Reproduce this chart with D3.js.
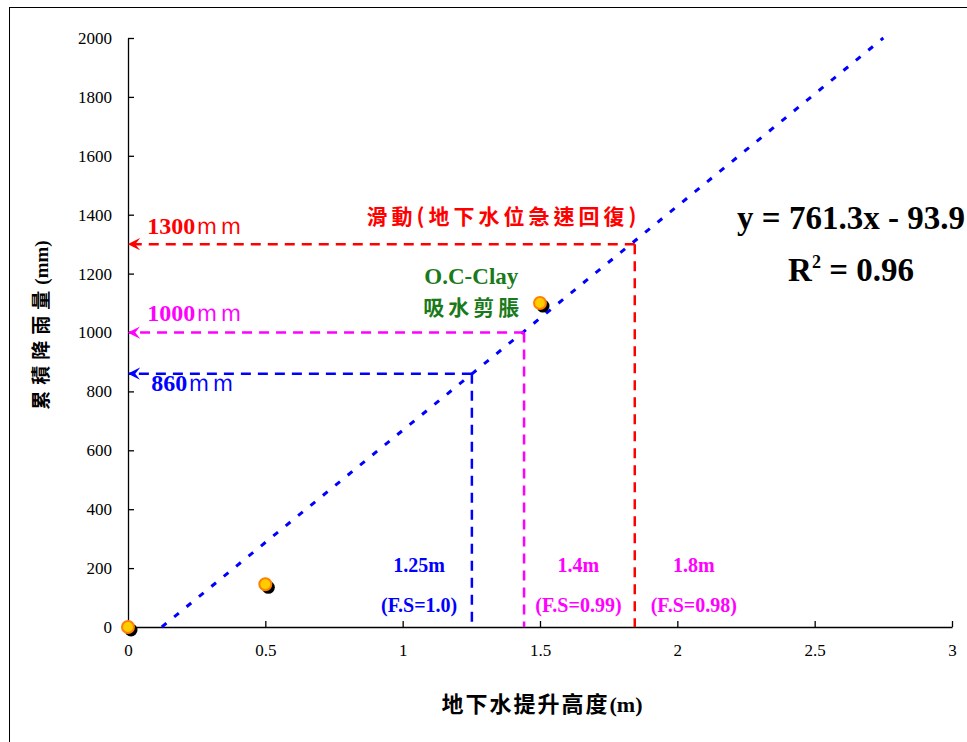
<!DOCTYPE html>
<html>
<head>
<meta charset="utf-8">
<script src="https://cdn.jsdelivr.net/npm/d3@7"></script>
<style>
body{margin:0;background:#fff;}
svg text{font-family:"Liberation Serif","DejaVu Serif",serif;}
</style>
</head>
<body>
<svg id="chart" width="967" height="742"></svg>
<script>
// data
var xTicks = [0, 0.5, 1, 1.5, 2, 2.5, 3];
var yTicks = [0, 200, 400, 600, 800, 1000, 1200, 1400, 1600, 1800, 2000];
var ptX = [0, 0.5, 1.5];
var ptY = [0, 145, 1100];
var trendX = [0.123, 2.75];
var trendY = [0, 2000];
// reference lines: rainfall level, water rise, colour
var refRain = [1300, 1000, 860];
var refRise = [1.845, 1.442, 1.252];
var refColor = ["#ff0000", "#ff00ff", "#0000ff"];
var refText = ["1300ｍｍ", "1000ｍｍ", "860ｍｍ"];
var fsTop = ["1.25m", "1.4m", "1.8m"];
var fsBottom = ["(F.S=1.0)", "(F.S=0.99)", "(F.S=0.98)"];
var fsColor = ["#0000ff", "#ff00ff", "#ff00ff"];
var fsPos = [1.06, 1.64, 2.06];

var svg = d3.select("#chart");
var x = d3.scaleLinear().domain([0, 3]).range([128, 952]);
var y = d3.scaleLinear().domain([0, 2000]).range([627, 38]);

// outer frame
svg.append("rect").attr("x", 9.5).attr("y", 7.5).attr("width", 1000).attr("height", 1000)
    .style("fill", "none").style("stroke", "#000").style("stroke-width", 1);

// arrow markers
var defs = svg.append("defs");
refColor.forEach(function(c, i){
    defs.append("marker").attr("id", "arr" + i).attr("viewBox", "0 0 10 10")
        .attr("refX", 9).attr("refY", 5).attr("markerWidth", 5).attr("markerHeight", 5)
        .attr("orient", "auto")
        .append("path").attr("d", "M0,0 L10,5 L0,10 L4,5 Z").style("fill", c);
});

// axes
var xAxis = d3.axisBottom(x).tickValues(xTicks).tickSizeInner(-6).tickSizeOuter(0).tickPadding(14)
    .tickFormat(function(d){ return String(d); });
var gx = svg.append("g").attr("transform", "translate(0," + y(0) + ")").call(xAxis);
var yAxis = d3.axisLeft(y).tickValues(yTicks).tickSizeInner(-6).tickSizeOuter(0).tickPadding(16)
    .tickFormat(function(d){ return String(d); });
var gy = svg.append("g").attr("transform", "translate(" + x(0) + ",0)").call(yAxis);
[gx, gy].forEach(function(g){
    g.attr("font-family", "Liberation Serif").attr("font-size", 17);
    g.select(".domain").style("stroke", "#000").style("stroke-width", 1.3);
    g.selectAll(".tick line").style("stroke", "#000").style("stroke-width", 1.3);
    g.selectAll(".tick text").style("fill", "#000");
});
gx.selectAll(".tick text").attr("dy", "0.9em");

// trend line
svg.append("line").attr("x1", x(trendX[0])).attr("y1", y(trendY[0]))
    .attr("x2", x(trendX[1])).attr("y2", y(trendY[1]))
    .style("stroke", "#0000ff").style("stroke-width", 3).style("stroke-dasharray", "6,10");

// reference lines
refRain.forEach(function(r, i){
    svg.append("line").attr("x1", x(refRise[i])).attr("y1", y(r))
        .attr("x2", x(0) + 1).attr("y2", y(r))
        .style("stroke", refColor[i]).style("stroke-width", 2.5).style("stroke-dasharray", "10,7")
        .attr("marker-end", "url(#arr" + i + ")");
    svg.append("line").attr("x1", x(refRise[i])).attr("y1", y(r))
        .attr("x2", x(refRise[i])).attr("y2", y(0))
        .style("stroke", refColor[i]).style("stroke-width", 2.5).style("stroke-dasharray", "10,7");
});

// ref labels
var refLabY = [1335, 1040, 800];
var refLabX = [0.07, 0.07, 0.085];
refText.forEach(function(t, i){
    var tx = svg.append("text").attr("x", x(refLabX[i])).attr("y", y(refLabY[i]))
        .style("fill", refColor[i]).style("font-size", "24px");
    tx.append("tspan").style("font-weight", "bold").text(t.slice(0, t.length - 2));
    tx.append("tspan").text(t.slice(t.length - 2));
});

svg.append("text").attr("x", x(1.36) + 2).attr("y", y(1370)).attr("text-anchor", "middle")
    .style("fill", "#ff0000").style("font-size", "21px").style("font-weight", "bold")
    .style("font-family", "'Noto Sans CJK TC', serif").style("letter-spacing", "4px")
    .text("滑動(地下水位急速回復)");

svg.append("text").attr("x", x(1.25)).attr("y", y(1165)).attr("text-anchor", "middle")
    .style("fill", "#1a7a1a").style("font-size", "23px").style("font-weight", "bold")
    .text("O.C-Clay");
svg.append("text").attr("x", x(1.25) + 2).attr("y", y(1060)).attr("text-anchor", "middle")
    .style("fill", "#1a7a1a").style("font-size", "21px").style("font-weight", "bold")
    .style("font-family", "'Noto Sans CJK TC', serif").style("letter-spacing", "4px")
    .text("吸水剪脹");

// equation
svg.append("text").attr("x", 851).attr("y", 229).attr("text-anchor", "middle")
    .style("font-size", "33px").style("font-weight", "bold").style("fill", "#000")
    .text("y = 761.3x - 93.9");
var r2 = svg.append("text").attr("x", 851).attr("y", 281).attr("text-anchor", "middle")
    .style("font-size", "33px").style("font-weight", "bold").style("fill", "#000");
r2.append("tspan").text("R");
r2.append("tspan").attr("dy", -13).style("font-size", "18px").text("2");
r2.append("tspan").attr("dy", 13).text(" = 0.96");

// F.S labels
fsTop.forEach(function(t, i){
    svg.append("text").attr("x", x(fsPos[i])).attr("y", 572).attr("text-anchor", "middle")
        .style("fill", fsColor[i]).style("font-size", "20px").style("font-weight", "bold").text(t);
    svg.append("text").attr("x", x(fsPos[i])).attr("y", 612).attr("text-anchor", "middle")
        .style("fill", fsColor[i]).style("font-size", "20px").style("font-weight", "bold").text(fsBottom[i]);
});

// points
var pts = ptX.map(function(d, i){ return [d, ptY[i]]; });
svg.selectAll("circle.sh").data(pts).enter().append("circle").attr("class", "sh")
    .attr("cx", function(d){ return x(d[0]) + 3; }).attr("cy", function(d){ return y(d[1]) + 3; })
    .attr("r", 6.5).style("fill", "#000");
svg.selectAll("circle.pt").data(pts).enter().append("circle").attr("class", "pt")
    .attr("cx", function(d){ return x(d[0]); }).attr("cy", function(d){ return y(d[1]); })
    .attr("r", 6).style("fill", "#ffcc00").style("stroke", "#ff7f00").style("stroke-width", 2);

// axis titles
var xt = svg.append("text").attr("x", 542).attr("y", 712).attr("text-anchor", "middle")
    .style("font-size", "22px").style("font-weight", "bold").style("fill", "#000");
xt.append("tspan").style("font-family", "'Noto Sans CJK TC', serif").style("letter-spacing", "2px")
    .text("地下水提升高度");
xt.append("tspan").text("(m)");
var yt = svg.append("text").attr("transform", "translate(48,325) rotate(-90)").attr("text-anchor", "middle")
    .style("font-size", "19px").style("font-weight", "bold").style("fill", "#000");
yt.append("tspan").style("font-family", "'Noto Sans CJK TC', serif").style("letter-spacing", "6px")
    .text("累積降雨量");
yt.append("tspan").text("(mm)");
</script>
</body>
</html>
